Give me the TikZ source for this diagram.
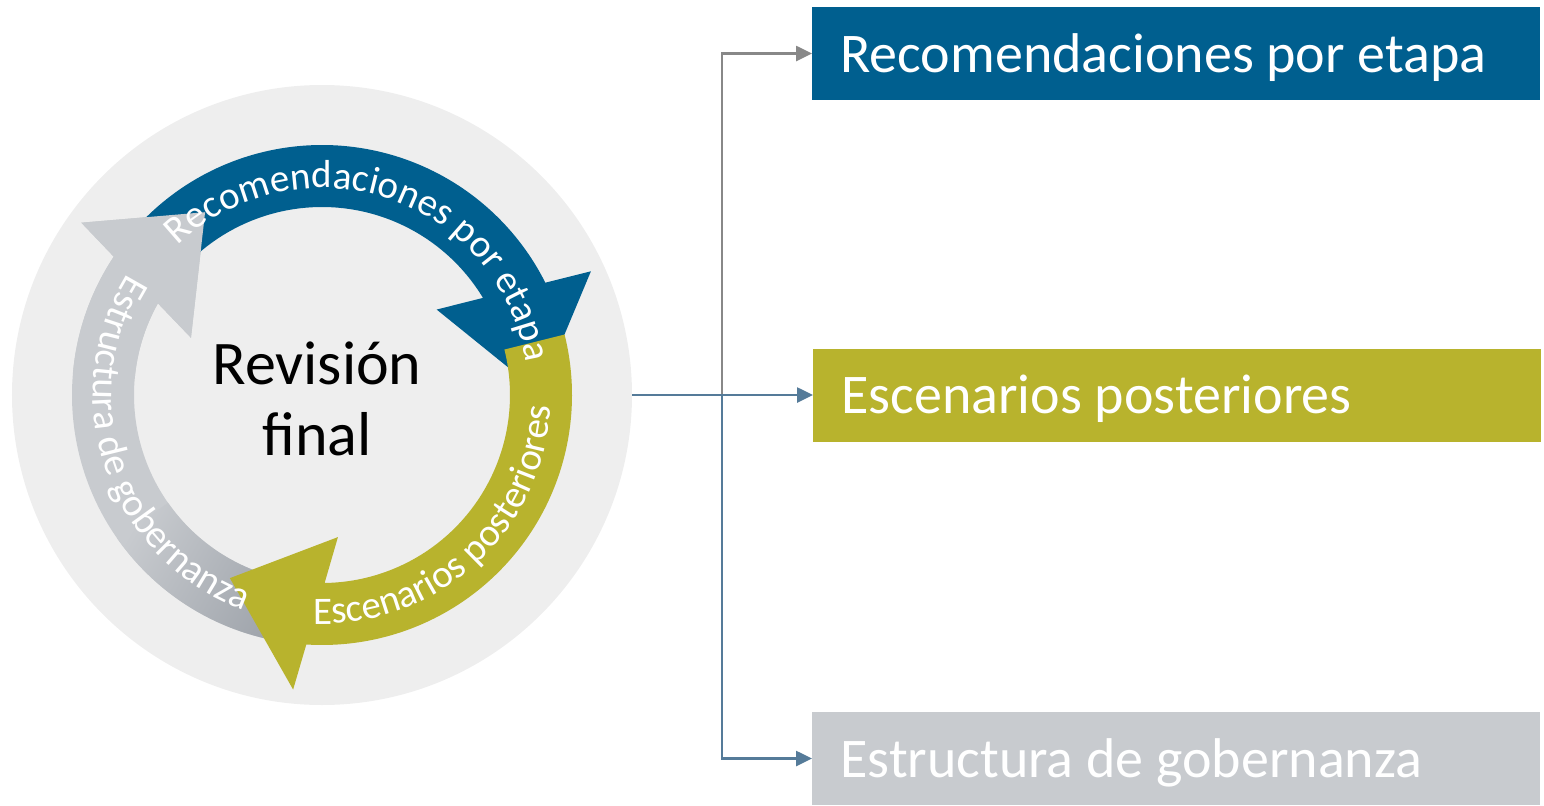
\documentclass[tikz,border=0pt]{standalone}
\usepackage{fontspec}
\setmainfont{Carlito}
\usetikzlibrary{arrows.meta,
                decorations.text,
                positioning}

\definecolor{hubgrey}{RGB}{238,238,238}
\definecolor{recblue}{RGB}{0,95,143}
\definecolor{escolive}{RGB}{184,179,45}
\definecolor{estgrey}{RGB}{200,203,207}
\definecolor{estshade}{RGB}{160,165,172}
\definecolor{linkgrey}{RGB}{136,136,136}
\definecolor{linkblue}{RGB}{85,123,153}

\begin{document}
\begin{tikzpicture}[
            x = 0.5pt, y = 0.5pt,
            hub/.style = {circle, fill=hubgrey, minimum size=310pt, inner sep=0pt},
            box/.style = {anchor=west, minimum height=46.5pt, text width=336pt,
                    inner xsep=14pt, inner ysep=0pt, align=flush left, text=white,
                    text height=18.5pt, text depth=0pt,
                    font=\fontsize{28}{32}\selectfont},
            revtext/.style = {align=center, font=\fontsize{31}{35.5}\selectfont},
            arctext/.style = {decorate, decoration={text along path,
                    text align=center, text color=white}},
            link/.style = {line width=1.3pt, -{Triangle[length=8pt, width=7.5pt]}}]

        \useasboundingbox (-322,-410) rectangle (1222,395);

        \node [hub]                 (hub) at (0,0) {};

        % cycle arrows
        \fill [estgrey] (-100:250) arc[start angle=-100, end angle=-213.6, radius=250]
            -- (144.4:296) -- (122.6:217) -- (156.4:143) -- (150.8:188)
            arc[start angle=150.8, end angle=260, radius=188] -- cycle;
        \begin{scope}
            \clip (-100:250) arc[start angle=-100, end angle=-145, radius=250]
                -- (-145:188) arc[start angle=-145, end angle=-100, radius=188] -- cycle;
            \shade [top color=estshade, bottom color=estgrey, shading angle=-120]
                (-210,-250) rectangle (-30,-105);
        \end{scope}
        \fill [recblue] (136:250) arc[start angle=136, end angle=26.7, radius=250]
            -- (24.7:296) -- (0.5:218) -- (36.7:143) -- (31.1:188)
            arc[start angle=31.1, end angle=136, radius=188] -- cycle;
        \fill [escolive] (14:250) arc[start angle=14, end angle=-93.6, radius=250]
            -- (-95.6:296) -- (-116.7:205) -- (-83.6:143) -- (-89.2:188)
            arc[start angle=-89.2, end angle=14, radius=188] -- cycle;
        \fill [estgrey] (175:250) arc[start angle=175, end angle=146.4, radius=250]
            -- (144.4:296) -- (122.6:217) -- (156.4:143) -- (150.8:188)
            arc[start angle=150.8, end angle=175, radius=188] -- cycle;

        % texts on the arrows
        \path [arctext, decoration={text={|\fontsize{19.5}{22}\selectfont|Recomendaciones por etapa}}]
            (151.5:207) arc[start angle=151.5, end angle=-8.5, radius=207];
        \path [arctext, decoration={text={|\fontsize{19.5}{22}\selectfont|Escenarios posteriores}}]
            (-127.5:229) arc[start angle=-127.5, end angle=32.5, radius=229];
        \path [arctext, decoration={text={|\fontsize{19.5}{22}\selectfont|Estructura de gobernanza}}]
            (129:229) arc[start angle=129, end angle=269, radius=229];

        \node [revtext]             (rev) at (-5,-4) {Revisión\\final};

        % outcomes
        \node [box, fill=recblue]   (rec) at (490,341.5) {Recomendaciones por etapa};
        \node [box, fill=escolive]  (esc) at (491,0) {Escenarios posteriores};
        \node [box, fill=estgrey]   (est) at (490,-363.5) {Estructura de gobernanza};
        %%
        \coordinate (split) at (400,0);
        \draw [link, linkgrey] (split) |- (rec.west);
        \draw [link, linkblue] (split) |- (est.west);
        \draw [link, linkblue] (hub) -- (esc);
    \end{tikzpicture}
\end{document}
